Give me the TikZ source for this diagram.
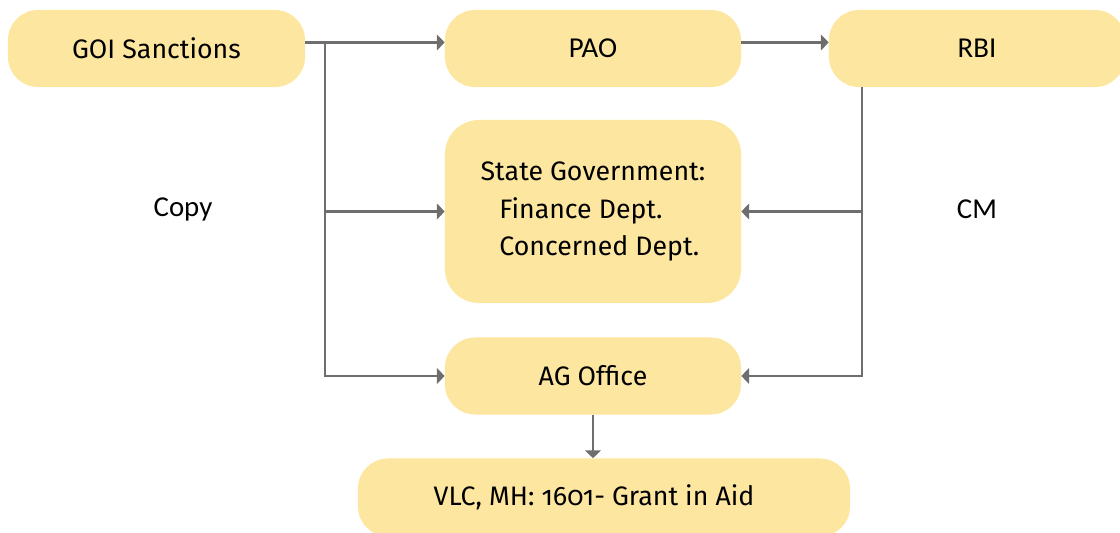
\documentclass[tikz,border=0pt]{standalone}
\usepackage{fontspec}
\setmainfont{Fira Sans}[Numbers=OldStyle]
\newfontfamily\calib{Carlito}
\usepackage{tikz}
\usetikzlibrary{arrows.meta}
\definecolor{boxfill}{HTML}{FDE7A0}
\definecolor{linegray}{HTML}{6E6E6E}

\begin{document}
\begin{tikzpicture}[x=0.025cm,y=-0.025cm,
  box/.style={rectangle,rounded corners=0.75cm,fill=boxfill,draw=none,inner sep=0pt,font=\fontsize{19}{23}\selectfont},
  cbox/.style={box,font=\calib\fontsize{20.5}{24}\selectfont},
  arr/.style={draw=linegray,line width=1.6pt,-{Triangle[length=5.5pt,width=11pt]}}]
\useasboundingbox (0,0) rectangle (1120,533);
% top row
\node[box,minimum width=7.425cm,minimum height=1.925cm] (goi) at (156.5,48.5) {GOI Sanctions};
\node[cbox,minimum width=7.4cm,minimum height=1.925cm] (pao) at (593,48.5) {PAO};
\node[cbox,minimum width=7.4cm,minimum height=1.925cm] (rbi) at (977,48.5) {RBI};
% middle
\node[box,minimum width=7.4cm,minimum height=4.575cm,rounded corners=0.85cm,align=left,
  font=\fontsize{19}{26.5}\selectfont] (state) at (593,211.5)
  {State Government:\\\hspace*{0.7em}Finance Dept.\\\hspace*{0.7em}Concerned Dept.};
\node[box,minimum width=7.4cm,minimum height=1.925cm] (ag) at (593,376) {AG Office};
\node[box,minimum width=12.3cm,minimum height=1.95cm] (vlc) at (604,497.5) {};
\node[font=\fontsize{19}{23}\selectfont] (vlctext) at (594,497) {VLC, MH: 1601- Grant in Aid};
% side labels
\node[font=\calib\fontsize{20.5}{24}\selectfont] (copy) at (183,209) {Copy};
\node[font=\calib\fontsize{20.5}{24}\selectfont] (cm) at (977,209) {CM};
% connectors
\coordinate (split) at (325,42);
\draw[arr] ([yshift=4.3pt]goi.east) -- ([yshift=4.3pt]pao.west);
\draw[arr] (split) |- (state.west);
\draw[arr] (split) |- (ag.west);
\draw[arr] ([yshift=4.3pt]pao.east) -- ([yshift=4.3pt]rbi.west);
\draw[arr] (rbi.south west) ++(33,0) |- (state.east);
\draw[arr] (rbi.south west) ++(33,0) |- (ag.east);
\draw[arr] (ag.south) -- (ag.south |- vlc.north);
\end{tikzpicture}
\end{document}
